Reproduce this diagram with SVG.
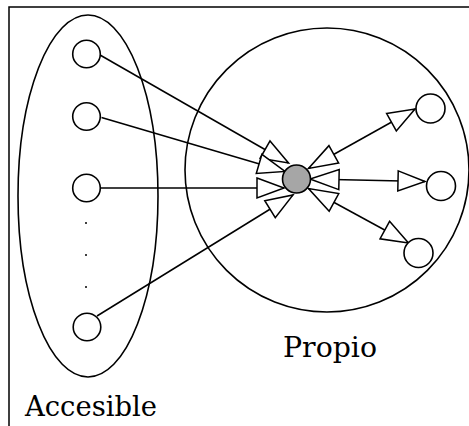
<svg xmlns="http://www.w3.org/2000/svg" width="469" height="426" viewBox="0 0 469 426">
<style>
.frame{fill:none;stroke:#000;stroke-width:1.5}
.group{fill:none;stroke:#000;stroke-width:1.6}
.node{fill:#fff;stroke:#000;stroke-width:1.6}
.hub{fill:#a6a6a6;stroke:#000;stroke-width:1.6}
.dot{fill:#000}
.edge{fill:none;stroke:#000;stroke-width:1.5;marker-end:url(#tri)}
.edge2{fill:none;stroke:#000;stroke-width:1.5;marker-start:url(#tri2);marker-end:url(#tri)}
.lbl{font-family:"DejaVu Serif","Liberation Serif",serif;font-size:28px;fill:#000}
</style>
<defs>
<marker id="tri" markerUnits="userSpaceOnUse" markerWidth="29" markerHeight="22" refX="27" refY="10" orient="auto" overflow="visible">
<path d="M0,0 L27,10 L0,20 Z" fill="#fff" stroke="#000" stroke-width="1.5"/>
</marker>
<marker id="tri2" markerUnits="userSpaceOnUse" markerWidth="31" markerHeight="22" refX="29" refY="10" orient="auto-start-reverse" overflow="visible">
<path d="M0,0 L29,10 L0,20 Z" fill="#fff" stroke="#000" stroke-width="1.5"/>
</marker>
</defs>
<path class="frame" d="M9,426 V7 H469"/>
<g id="accesible">
<ellipse class="group" cx="88" cy="196" rx="70" ry="181"/>
<text class="lbl" x="25" y="416" textLength="132" lengthAdjust="spacingAndGlyphs">Accesible</text>
</g>
<g id="propio">
<circle class="group" cx="327" cy="170" r="142"/>
<text class="lbl" x="283" y="357" textLength="94" lengthAdjust="spacingAndGlyphs">Propio</text>
</g>
<g id="connectors">
<path class="edge" d="M100,55 L288.5,163"/>
<path class="edge" d="M101.5,117.5 L285,171.5"/>
<path class="edge" d="M100,188 L284,188"/>
<path class="edge" d="M97,316 L293,195"/>
<path class="edge2" d="M308.5,168.5 L415,109"/>
<path class="edge2" d="M310,179 L425,181.5"/>
<path class="edge2" d="M308.5,188.5 L408.5,243"/>
</g>
<g id="hub"><circle class="hub" cx="296.5" cy="179" r="14"/></g>
<g id="a1"><circle class="node" cx="86.5" cy="54" r="13.8"/></g>
<g id="a2"><circle class="node" cx="86.5" cy="116.5" r="13.8"/></g>
<g id="a3"><circle class="node" cx="86.5" cy="188" r="13.8"/></g>
<g id="dots">
<circle class="dot" cx="86" cy="223" r="1"/>
<circle class="dot" cx="86" cy="255" r="1"/>
<circle class="dot" cx="86" cy="287" r="1"/>
</g>
<g id="a4"><circle class="node" cx="87" cy="327" r="13.8"/></g>
<g id="p1"><circle class="node" cx="430.5" cy="108.5" r="14.5"/></g>
<g id="p2"><circle class="node" cx="441" cy="186" r="14.5"/></g>
<g id="p3"><circle class="node" cx="418.5" cy="253" r="14.5"/></g>
</svg>
